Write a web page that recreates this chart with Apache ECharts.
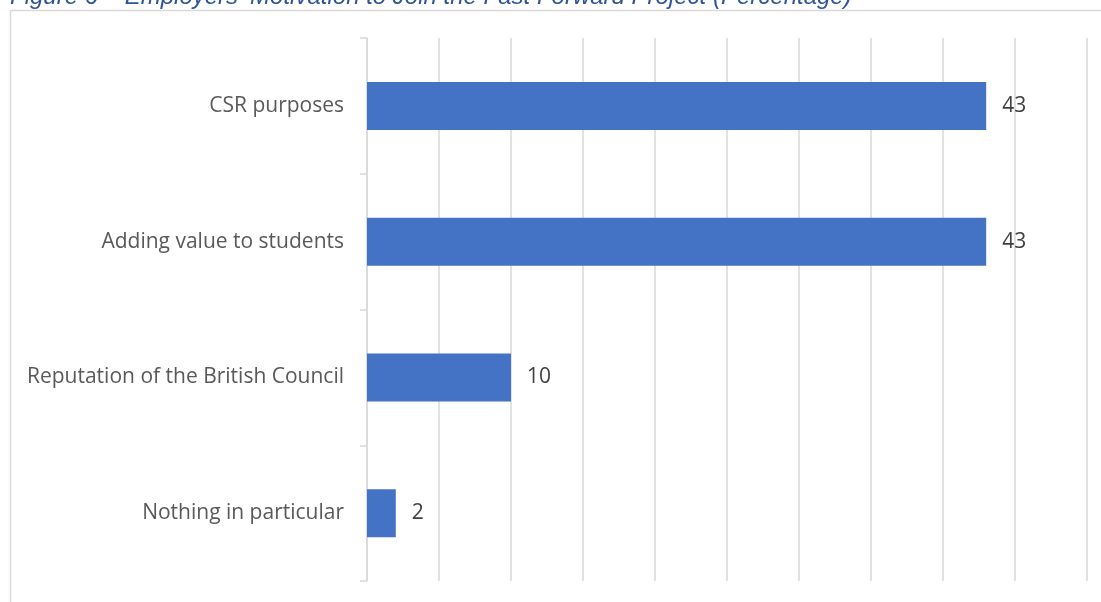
<!DOCTYPE html>
<html>
<head>
<meta charset="utf-8">
<style>
  html, body { margin: 0; padding: 0; background: #ffffff; }
  #chart { width: 1101px; height: 602px; }
</style>
<script src="https://cdn.jsdelivr.net/npm/echarts@6/dist/echarts.min.js"></script>
</head>
<body>
<div id="chart"></div>
<script>
// Motivations listed top to bottom, with the share of employers (%)
const categories = [
  'CSR purposes',
  'Adding value to students',
  'Reputation of the British Council',
  'Nothing in particular'
];
const percentages = [43, 43, 10, 2];
const titleText = 'Figure 6 \u2013 Employers\u2019 Motivation to Join the Fast Forward Project (Percentage)';

const chart = echarts.init(document.getElementById('chart'), null, { renderer: 'canvas' });

chart.setOption({
  animation: false,
  backgroundColor: '#ffffff',
  title: {
    text: titleText,
    left: 10,
    top: -15,
    padding: 0,
    textStyle: {
      fontFamily: '"Liberation Sans", Arial, sans-serif',
      fontStyle: 'italic',
      fontWeight: 'normal',
      fontSize: 24,
      color: '#2f5597'
    }
  },
  graphic: [{
    type: 'rect',
    silent: true,
    shape: { x: 10.5, y: 10.5, width: 1100, height: 600 },
    style: { fill: 'none', stroke: '#d9d9d9', lineWidth: 1.5 }
  }],
  grid: { left: 367, right: 14, top: 38, bottom: 21, containLabel: false },
  xAxis: {
    type: 'value',
    min: 0,
    max: 50,
    interval: 5,
    axisLine: { show: false },
    axisTick: { show: false },
    axisLabel: { show: false },
    splitLine: { show: true, lineStyle: { color: '#d9d9d9', width: 1.5 } }
  },
  yAxis: {
    type: 'category',
    data: categories,
    inverse: true,
    axisLine: { show: true, lineStyle: { color: '#d9d9d9', width: 1.5 } },
    axisTick: { show: true, length: 7, lineStyle: { color: '#d9d9d9', width: 1.5 } },
    axisLabel: {
      margin: 23,
      color: '#595959',
      fontSize: 21,
      fontFamily: '"Open Sans", sans-serif'
    }
  },
  series: [{
    type: 'bar',
    data: percentages,
    barWidth: 48,
    itemStyle: { color: '#4472c4' },
    label: {
      show: true,
      position: 'right',
      distance: 16,
      color: '#404040',
      fontSize: 21,
      fontFamily: '"Open Sans", sans-serif'
    }
  }]
});
</script>
</body>
</html>
